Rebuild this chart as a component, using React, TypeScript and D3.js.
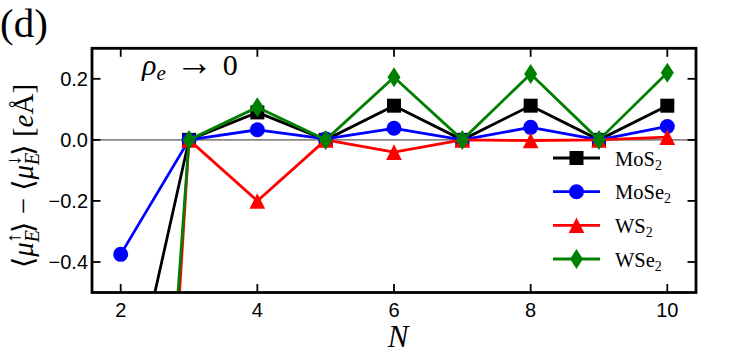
import React from "react";
import * as d3 from "d3";

const Ns = [2, 3, 4, 5, 6, 7, 8, 9, 10];
const seriesNames = ["MoS2", "MoSe2", "WS2", "WSe2"];
const mos2 = [-1.0, 0.0, 0.09, 0.0, 0.112, 0.0, 0.112, 0.0, 0.112];
const mose2 = [-0.375, 0.0, 0.033, 0.003, 0.038, 0.0, 0.041, 0.0, 0.044];
const ws2 = [-3.6, 0.0, -0.2, 0.0, -0.04, 0.0, -0.002, 0.0, 0.009];
const wse2 = [-3.1, 0.0, 0.107, 0.0, 0.205, 0.0, 0.216, 0.0, 0.22];
const xTicks = [2, 4, 6, 8, 10];
const yTicks = [-0.4, -0.2, 0.0, 0.2];

const W = 731, H = 355;
const L = 92, R = 696, T = 48.3, B = 292.5;

const colors = ["#000000", "#0000ff", "#ff0000", "#008000"];
const shapes = ["square", "circle", "triangle", "diamond"];
const values = [mos2, mose2, ws2, wse2];

function Marker({ shape, x, y, color }: { shape: string; x: number; y: number; color: string }) {
  if (shape === "square") return <rect x={x - 7} y={y - 7} width={14} height={14} fill={color} />;
  if (shape === "circle") return <circle cx={x} cy={y} r={7.5} fill={color} />;
  if (shape === "triangle") {
    const s = 7.8;
    return <path d={`M${x},${y - s}L${x + s},${y + s}L${x - s},${y + s}Z`} fill={color} />;
  }
  return <path d={`M${x},${y - 10}L${x + 6.5},${y}L${x},${y + 10}L${x - 6.5},${y}Z`} fill={color} />;
}

export default function App() {
  const x = d3.scaleLinear().domain([1.58, 10.42]).range([L, R]);
  const y = d3.scaleLinear().domain([-0.5, 0.3]).range([B, T]);
  const line = d3.line<number>().x((_, i) => x(Ns[i])).y((d) => y(d));
  const serif = "'Liberation Serif', 'DejaVu Serif', serif";
  const sans = "'Liberation Sans', Arial, sans-serif";
  const tickLen = 8.5;

  const legendY = [158, 191.7, 225.3, 259];

  return (
    <svg width={W} height={H} style={{ position: "absolute", left: 0, top: 0, background: "#fff" }}>
      <defs>
        <clipPath id="plotclip">
          <rect x={L} y={T} width={R - L} height={B - T} />
        </clipPath>
      </defs>
      {/* zero line */}
      <line x1={L} x2={R} y1={y(0)} y2={y(0)} stroke="#888" strokeWidth={1.6} />
      <g clipPath="url(#plotclip)">
        {values.map((vals, si) => (
          <g key={si}>
            <path d={line(vals) || ""} fill="none" stroke={colors[si]} strokeWidth={2.8} strokeLinejoin="round" />
            {vals.map((v, i) => (
              <Marker key={i} shape={shapes[si]} x={x(Ns[i])} y={y(v)} color={colors[si]} />
            ))}
          </g>
        ))}
      </g>
      {/* frame */}
      <rect x={L} y={T} width={R - L} height={B - T} fill="none" stroke="#000" strokeWidth={2.8} />
      {/* x ticks */}
      {xTicks.map((t) => (
        <g key={t}>
          <line x1={x(t)} x2={x(t)} y1={B} y2={B - tickLen} stroke="#000" strokeWidth={1.8} />
          <line x1={x(t)} x2={x(t)} y1={T} y2={T + tickLen} stroke="#000" strokeWidth={1.8} />
          <text x={x(t)} y={316.5} textAnchor="middle" fontFamily={sans} fontSize={20}>
            {t}
          </text>
        </g>
      ))}
      {yTicks.map((t) => (
        <g key={t}>
          <line x1={L} x2={L + tickLen} y1={y(t)} y2={y(t)} stroke="#000" strokeWidth={1.8} />
          <line x1={R} x2={R - tickLen} y1={y(t)} y2={y(t)} stroke="#000" strokeWidth={1.8} />
          <text x={88} y={y(t) + 7} textAnchor="end" fontFamily={sans} fontSize={20}>
            {t === 0 ? "0.0" : d3.format(".1f")(t).replace("-", "\u2212")}
          </text>
        </g>
      ))}
      {/* legend */}
      {seriesNames.map((name, si) => {
        const ly = legendY[si];
        const base = name.slice(0, -1);
        return (
          <g key={name}>
            <line x1={553} x2={600} y1={ly} y2={ly} stroke={colors[si]} strokeWidth={2.8} />
            <Marker shape={shapes[si]} x={576.5} y={ly} color={colors[si]} />
            <text x={615} y={ly + 7.5} fontFamily={serif} fontSize={20.5}>
              {base}
              <tspan fontSize={14} dy={4}>2</tspan>
            </text>
          </g>
        );
      })}
      {/* panel label */}
      <text x={0} y={37} fontFamily={serif} fontSize={41}>(d)</text>
      {/* rho annotation */}
      <text x={142} y={75} fontFamily={serif} fontSize={30}>
        <tspan fontStyle="italic">ρ</tspan>
        <tspan fontStyle="italic" fontSize={21} dy={5}>e</tspan>
        <tspan dy={-5} fontSize={38}> → </tspan>
        <tspan>0</tspan>
      </text>
      {/* x label */}
      <text x={398} y={347} textAnchor="middle" fontFamily={serif} fontStyle="italic" fontSize={31}>N</text>
      {/* y label */}
      <g transform="translate(33,176) rotate(-90)">
        <text x={0} y={0} textAnchor="middle" fontFamily={serif} fontSize={29}>
          <tspan>⟨</tspan>
          <tspan fontStyle="italic">μ</tspan>
          <tspan fontStyle="italic" fontSize={20} dy={6}>E</tspan>
          <tspan fontSize={20} dx={-13} dy={-19}>↑</tspan>
          <tspan dy={13}>⟩ − ⟨</tspan>
          <tspan fontStyle="italic">μ</tspan>
          <tspan fontStyle="italic" fontSize={20} dy={6}>E</tspan>
          <tspan fontSize={20} dx={-13} dy={-19}>↓</tspan>
          <tspan dy={13}>⟩ [</tspan>
          <tspan fontStyle="italic">e</tspan>
          <tspan>Å]</tspan>
        </text>
      </g>
    </svg>
  );
}
